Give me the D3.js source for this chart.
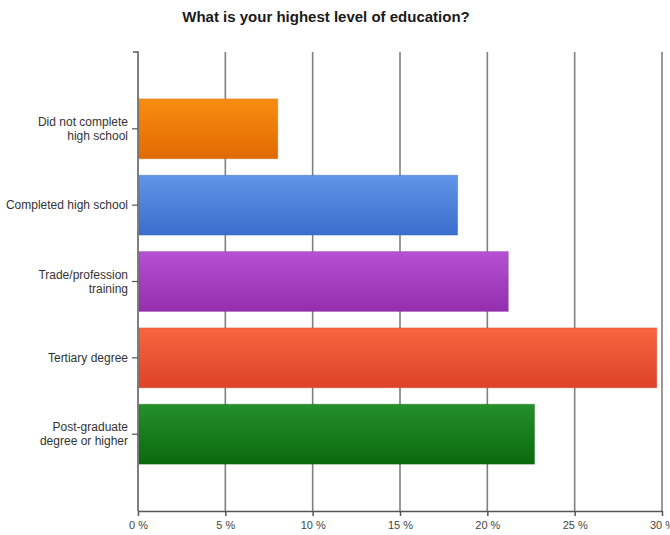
<!DOCTYPE html>
<html>
<head>
<meta charset="utf-8">
<script src="https://cdn.jsdelivr.net/npm/d3@7"></script>
<style>
  html, body { margin: 0; padding: 0; background: #fff; }
  svg { display: block; font-family: "Liberation Sans", Arial, sans-serif; }
</style>
</head>
<body>
<svg id="chart" width="670" height="535"></svg>
<script>
// Survey: highest level of education (share of respondents, %)
const categories = [
  ["Did not complete", "high school"],
  ["Completed high school"],
  ["Trade/profession", "training"],
  ["Tertiary degree"],
  ["Post-graduate", "degree or higher"]
];
const values = [8.0, 18.3, 21.2, 29.7, 22.7];
const barColors = [
  ["#f98d12", "#e06a00"],
  ["#6095e8", "#3b6dcc"],
  ["#b551d2", "#932eae"],
  ["#f6663f", "#dd4328"],
  ["#24902a", "#0a6a0e"]
];
const tickValues = [0, 5, 10, 15, 20, 25, 30];
const title = "What is your highest level of education?";

const svg = d3.select("#chart");
const margin = { top: 52, left: 138 };
const W = 670;

const x = d3.scaleLinear().domain([0, 30]).range([margin.left, 662]);
const y = d3.scaleBand()
  .domain(d3.range(categories.length))
  .range([margin.top, 511])
  .paddingInner(0.216)
  .paddingOuter(0.614);

// Vertical gradients for the bars
const defs = svg.append("defs");
barColors.forEach((c, i) => {
  const g = defs.append("linearGradient")
    .attr("id", "grad" + i)
    .attr("x1", 0).attr("y1", 0).attr("x2", 0).attr("y2", 1);
  g.append("stop").attr("offset", "0%").attr("stop-color", c[0]);
  g.append("stop").attr("offset", "100%").attr("stop-color", c[1]);
});

// Title
svg.append("text")
  .attr("x", 326).attr("y", 22)
  .attr("text-anchor", "middle")
  .attr("font-size", 15)
  .attr("font-weight", "bold")
  .attr("fill", "#1a1a1a")
  .text(title);

// Vertical gridlines
svg.append("g")
  .selectAll("line")
  .data(tickValues.slice(1))
  .join("line")
  .attr("x1", d => x(d)).attr("x2", d => x(d))
  .attr("y1", margin.top).attr("y2", 511)
  .attr("stroke", "#808080")
  .attr("stroke-width", 1.6);

// Bars
svg.append("g")
  .selectAll("rect")
  .data(values)
  .join("rect")
  .attr("x", x(0) + 1)
  .attr("y", (d, i) => y(i))
  .attr("width", d => x(d) - x(0) - 1)
  .attr("height", y.bandwidth())
  .attr("fill", (d, i) => `url(#grad${i})`)
  .attr("stroke", (d, i) => d3.color(barColors[i][1]).darker(0.3))
  .attr("stroke-opacity", 0.35)
  .attr("stroke-width", 1);

// X axis
const xAxis = d3.axisBottom(x)
  .tickValues(tickValues)
  .tickSize(5)
  .tickSizeOuter(0)
  .tickFormat(d => d + " %");
const gx = svg.append("g")
  .attr("transform", `translate(0,511)`)
  .call(xAxis);
gx.select(".domain").attr("stroke", "#555").attr("stroke-width", 1.5);
gx.selectAll(".tick line").attr("stroke", "#555").attr("stroke-width", 1.5);
gx.selectAll(".tick text")
  .attr("font-size", 11)
  .attr("fill", "#444")
  .attr("dy", "0.9em");

// Y axis
const yAxis = d3.axisLeft(y)
  .tickSize(6)
  .tickSizeOuter(5)
  .tickFormat("");
const gy = svg.append("g")
  .attr("transform", `translate(${margin.left},0)`)
  .call(yAxis);
gy.select(".domain").attr("stroke", "#555").attr("stroke-width", 1.5)
  .attr("d", `M-5,${margin.top}H0V511`);
gy.selectAll(".tick line").attr("stroke", "#555").attr("stroke-width", 1.2);

// Category labels (multi-line, right-aligned next to the ticks)
gy.selectAll(".tick").each(function(d) {
  const lines = categories[d];
  const t = d3.select(this).append("text")
    .attr("x", -10)
    .attr("text-anchor", "end")
    .attr("font-size", 12)
    .attr("fill", "#333");
  const lh = 14;
  lines.forEach((s, k) => {
    t.append("tspan")
      .attr("x", -10)
      .attr("y", (k - (lines.length - 1) / 2) * lh)
      .attr("dy", "0.35em")
      .text(s);
  });
});
</script>
</body>
</html>
